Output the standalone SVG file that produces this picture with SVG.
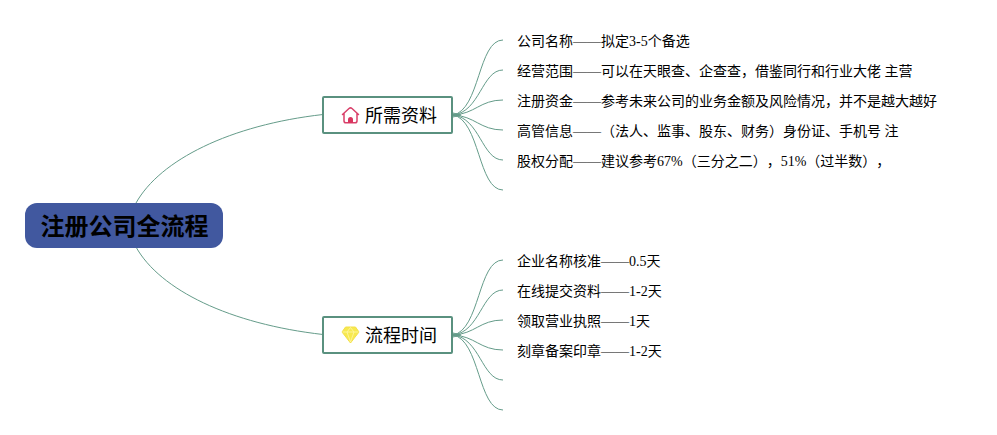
<svg xmlns="http://www.w3.org/2000/svg" width="997" height="435" viewBox="0 0 997 435">
<style>
text{font-family:"Liberation Serif","Noto Sans CJK SC",serif;fill:#000;text-spacing-trim:space-all}
.leaf{font-size:14px}
.sub{font-size:18px;font-family:"Noto Sans CJK SC",sans-serif;font-weight:400}
.sb{fill:#fff;stroke:#5a917f;stroke-width:2}
#connectors path{fill:none;stroke:#659c8a;stroke-width:1}
</style>
<rect width="997" height="435" fill="#fff"/>
<g id="connectors">
<path d="M136 203C160 160 230 125 323 114.500"/>
<path d="M136 247C160 290 230 324 323 334.500"/>
<path d="M453 115C480 110 478 40 503 40"/>
<path d="M453 115C480 112 482 70 503 70"/>
<path d="M453 115C475 114 480 100 503 100"/>
<path d="M453 115C475 116 480 130 503 130"/>
<path d="M453 115C480 118 482 160 503 160"/>
<path d="M453 115C480 120 478 190 503 190"/>
<path d="M453 335C480 330 478 260 503 260"/>
<path d="M453 335C480 332 482 290 503 290"/>
<path d="M453 335C475 334 480 320 503 320"/>
<path d="M453 335C475 336 480 350 503 350"/>
<path d="M453 335C480 338 482 380 503 380"/>
<path d="M453 335C480 340 478 410 503 410"/>
<path d="M453 113L461 115L453 117Z" fill="#659c8a"/>
<path d="M453 333L461 335L453 337Z" fill="#659c8a"/>
</g>
<g id="root">
<rect x="25" y="203" width="198" height="45" rx="12" fill="#41589f"/>
<text x="124.500" y="235" text-anchor="middle" style="font-family:'Noto Sans CJK SC',sans-serif;font-size:24px;font-weight:700;fill:#000">注册公司全流程</text>
</g>
<g id="node-materials">
<rect class="sb" x="323" y="97" width="129" height="36" rx="1"/>
<path d="M342.500 114.500L349 108.500Q350.500 107.200 352 108.500L358.500 114.500M344 113.500V121Q344 122.800 346 122.800H355Q357 122.800 357 121V113.500" fill="none" stroke="#d9406a" stroke-width="1.500" stroke-linecap="round"/>
<path d="M348 123V119.500Q348 117 350.500 117Q353 117 353 119.500V123Z" fill="#d9355f"/>
<text class="sub" x="365" y="122">所需资料</text>
</g>
<g id="node-time">
<rect class="sb" x="323" y="317" width="129" height="36" rx="1"/>
<path d="M345.500 327H355.500L359 332L350.500 343L342 332Z" fill="#f7e94f" stroke="#f3e04a" stroke-width="1" stroke-linejoin="round"/>
<path d="M342.500 332H358.500M347 332L350.500 342L354 332L350.500 327.500L347 332" fill="none" stroke="#fff6a8" stroke-width=".8"/>
<text class="sub" x="365" y="342">流程时间</text>
</g>
<g id="leaf-1"><text class="leaf" x="517" y="46">公司名称——拟定3-5个备选</text></g>
<g id="leaf-2"><text class="leaf" x="517" y="76">经营范围——可以在天眼查、企查查，借鉴同行和行业大佬 主营</text></g>
<g id="leaf-3"><text class="leaf" x="517" y="106">注册资金——参考未来公司的业务金额及风险情况，并不是越大越好</text></g>
<g id="leaf-4"><text class="leaf" x="517" y="136">高管信息——（法人、监事、股东、财务）身份证、手机号 注</text></g>
<g id="leaf-5"><text class="leaf" x="517" y="166">股权分配——建议参考67%（三分之二），51%（过半数），</text></g>
<g id="leaf-6"><text class="leaf" x="517" y="266">企业名称核准——0.5天</text></g>
<g id="leaf-7"><text class="leaf" x="517" y="296">在线提交资料——1-2天</text></g>
<g id="leaf-8"><text class="leaf" x="517" y="326">领取营业执照——1天</text></g>
<g id="leaf-9"><text class="leaf" x="517" y="356">刻章备案印章——1-2天</text></g>
</svg>
